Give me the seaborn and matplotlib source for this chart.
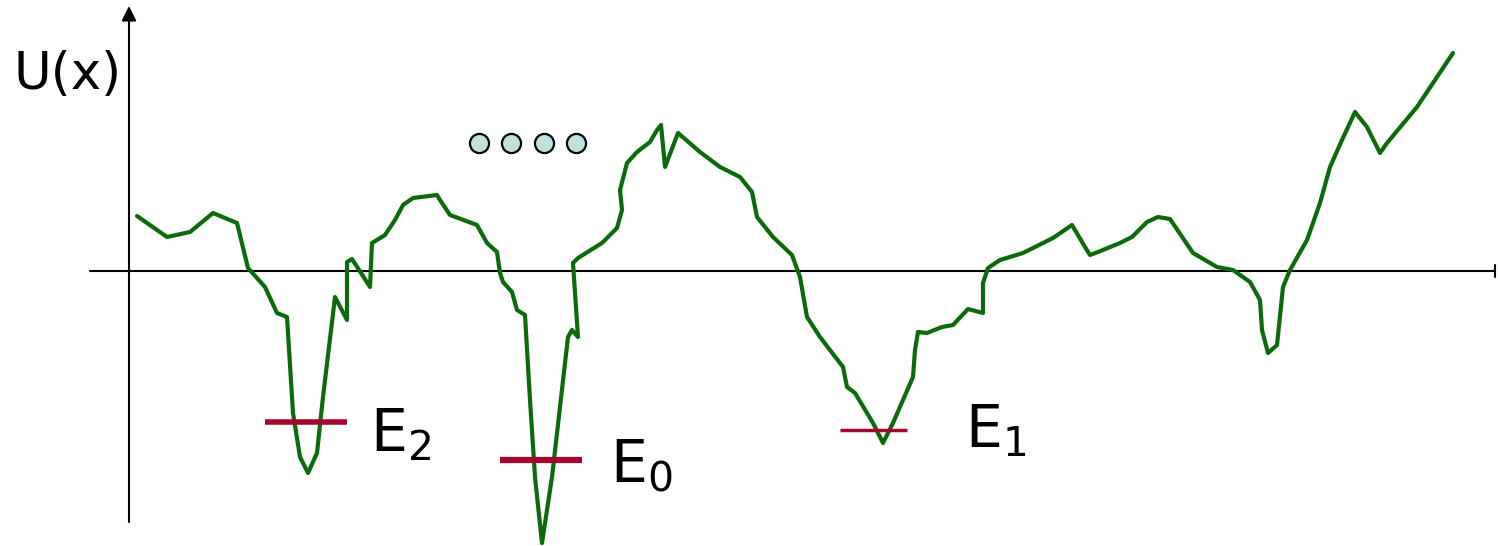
import matplotlib
matplotlib.use("Agg")
import matplotlib.pyplot as plt
import seaborn as sns
import pandas as pd

# potential curve U(x) (x in px, U = height above the x axis)
curve_x = [137, 167, 190, 213, 237, 248, 265, 277, 287, 293, 300, 308, 317, 323, 335, 347,
           347, 352, 370, 372, 385, 395, 403, 413, 437, 440, 450, 477, 487, 497, 500, 503,
           512, 517, 525, 530, 535, 542, 552, 560, 568, 572, 578, 573, 578, 602, 617, 622,
           620, 627, 637, 650, 657, 661, 665, 678, 700, 720, 740, 752, 757, 773, 792, 800,
           807, 820, 843, 847, 855, 873, 883, 893, 913, 915, 918, 927, 942, 953, 968, 983,
           983, 988, 1000, 1023, 1053, 1072, 1085, 1090, 1098, 1120, 1132, 1147, 1158, 1170,
           1193, 1217, 1233, 1250, 1260, 1262, 1268, 1277, 1283, 1290, 1307, 1320, 1330, 1342,
           1355, 1367, 1380, 1387, 1417, 1453]
curve_u = [55, 34, 39, 58, 48, 3, -16, -42, -46, -142, -186, -202, -182, -126, -26, -49,
           9, 12, -16, 28, 36, 51, 66, 73, 76, 71, 56, 46, 28, 19, -2, -11,
           -21, -39, -44, -129, -206, -272, -206, -136, -66, -59, -66, 8, 13, 28, 43, 61,
           81, 108, 119, 129, 141, 146, 104, 138, 119, 104, 94, 79, 54, 34, 16, -6,
           -46, -66, -96, -116, -122, -152, -172, -152, -106, -79, -61, -62, -56, -54, -38, -42,
           -12, 3, 11, 18, 33, 46, 24, 16, 19, 28, 34, 49, 54, 52,
           18, 4, 1, -11, -29, -59, -82, -74, -16, 1, 31, 68, 104, 131,
           159, 144, 118, 128, 164, 218]

# energy levels
level_names = ["E_2", "E_0", "E_1"]
level_x0 = [265, 500, 840]
level_x1 = [347, 582, 907]
level_u = [-151, -189, -159]
level_width = [4.0, 4.5, 2.5]
label_x = [370, 610, 965]
label_u = [-164, -194, -160]

# the four dots
dots_x = [479, 511, 544, 576]
dots_u = [128, 128, 128, 128]

curve = pd.DataFrame({"x": curve_x, "U": curve_u})
dots = pd.DataFrame({"x": dots_x, "U": dots_u})

sns.set_style("white")
fig = plt.figure(figsize=(14.98, 5.46), dpi=100)
ax = fig.add_axes([0, 0, 1, 1])
ax.set_xlim(0, 1498)
ax.set_ylim(-275, 271)
ax.axis("off")

# axes of the diagram
ax.plot([90, 1495], [0, 0], color="black", lw=1.5, zorder=1)
ax.plot([1495, 1495], [-6, 6], color="black", lw=1.5, zorder=1)
ax.annotate("", xy=(129, 265), xytext=(129, -251),
            arrowprops=dict(arrowstyle="-|>", color="black", lw=1.5,
                            mutation_scale=22, shrinkA=0, shrinkB=0), zorder=1)
ax.text(68, 196, "U(x)", fontsize=37, ha="center", va="center", color="black")

# estimator=None keeps every traced point (no averaging of repeated x)
sns.lineplot(data=curve, x="x", y="U", sort=False, estimator=None, color="#0b6b0b",
             lw=3.0, solid_joinstyle="round", solid_capstyle="round", ax=ax, zorder=3)

for name, x0, x1, u, w, lx, lu in zip(level_names, level_x0, level_x1, level_u,
                                       level_width, label_x, label_u):
    ax.plot([x0, x1], [u, u], color="#a3062f", lw=w, solid_capstyle="butt", zorder=4)
    ax.text(lx, lu, r"$\mathregular{" + name + "}$", fontsize=42, ha="left",
            va="center", color="black")

sns.scatterplot(data=dots, x="x", y="U", s=190, color="#bde0e0", edgecolor="black",
                linewidth=1.6, ax=ax, zorder=5)

ax.set_xlabel("")
ax.set_ylabel("")
fig.savefig("out.png", dpi=100)
